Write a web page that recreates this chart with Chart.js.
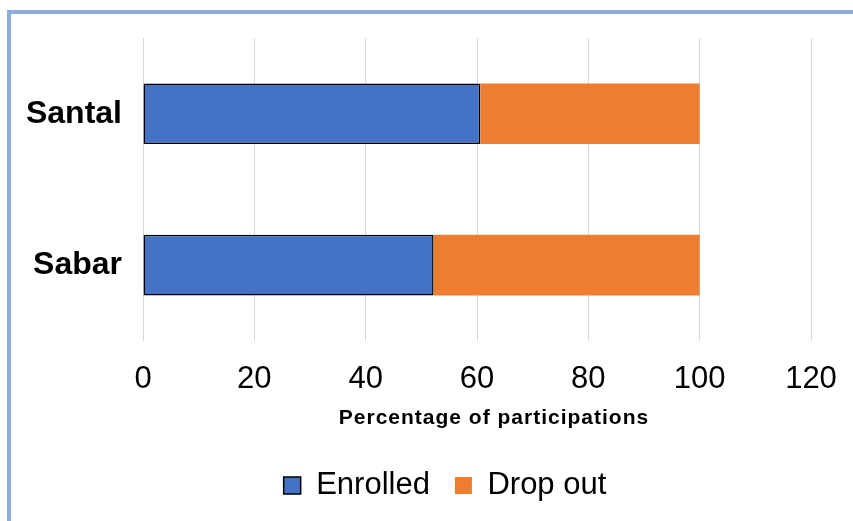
<!DOCTYPE html>
<html>
<head>
<meta charset="utf-8">
<script src="https://cdn.jsdelivr.net/npm/chart.js@4.4.0/dist/chart.umd.min.js"></script>
<style>
  html, body { margin: 0; padding: 0; background: #fff; overflow: hidden; }
  .frame { position: absolute; left: 7px; top: 10px; width: 900px; height: 600px;
           border-left: 4px solid #8faadc; border-top: 4px solid #8faadc; }
  #chart { position: absolute; left: 0; top: 0; }
</style>
</head>
<body>
<div class="frame"></div>
<!-- a bit wider than the window, the right edge is cut off like in the original -->
<canvas id="chart" width="880" height="521"></canvas>
<script>
// data
const groups = ['Santal', 'Sabar'];
const enrolled = [60.6, 52.2];
const dropOut = [39.4, 47.8];
const xTicks = [0, 20, 40, 60, 80, 100, 120];
const axisTitle = 'Percentage of participations';

const FONT = '"Liberation Sans", Arial, sans-serif';

// x axis title, drawn a bit right of the plot centre like in the original
const axisTitlePlugin = {
	id: 'axisTitle',
	afterDraw(chart) {
		const sx = chart.scales.x;
		const ctx = chart.ctx;
		ctx.save();
		ctx.font = 'bold 21px ' + FONT;
		ctx.letterSpacing = '1px';
		ctx.fillStyle = '#000';
		ctx.textAlign = 'center';
		ctx.textBaseline = 'middle';
		ctx.fillText(axisTitle, (sx.left + sx.right) / 2 + 17, sx.top + 77);
		ctx.restore();
	}
};

new Chart(document.getElementById('chart'), {
	type: 'bar',
	data: {
		labels: groups,
		datasets: [{
			label: 'Enrolled',
			data: enrolled,
			backgroundColor: '#4472c4',
			borderColor: '#000',
			borderWidth: 1.5,
			borderSkipped: false
		}, {
			label: 'Drop out',
			data: dropOut,
			backgroundColor: '#ed7d31',
			borderWidth: 0
		}]
	},
	options: {
		indexAxis: 'y',
		responsive: false,
		animation: false,
		barPercentage: 0.4,
		categoryPercentage: 1.0,
		layout: { padding: { left: 10, right: 0, top: 38, bottom: 10 } },
		plugins: {
			tooltip: { enabled: false },
			legend: {
				position: 'bottom',
				labels: {
					color: '#000',
					font: { size: 31, family: FONT },
					boxWidth: 17,
					boxHeight: 17,
					padding: 25
				}
			}
		},
		scales: {
			x: {
				stacked: true,
				min: xTicks[0],
				max: xTicks[xTicks.length - 1],
				ticks: {
					stepSize: xTicks[1] - xTicks[0],
					color: '#000',
					font: { size: 31, family: FONT },
					padding: 20
				},
				grid: { color: '#d9d9d9', lineWidth: 1, drawTicks: false },
				border: { display: false },
				afterFit: function(scale) { scale.height += 27; }
			},
			y: {
				stacked: true,
				ticks: {
					color: '#000',
					font: { size: 32, weight: 'bold', family: FONT },
					padding: 21
				},
				grid: { display: false, drawTicks: false },
				border: { display: false },
				afterFit: function(scale) {
					scale.width = 133;
					// labels sit well inside the bands, no extra room needed above/below
					scale.paddingTop = 0;
					scale.paddingBottom = 0;
				}
			},
			// empty spacer on the right so the plot ends at 120 and the legend sits where it does
			spacer: {
				type: 'linear',
				position: 'right',
				ticks: { display: false },
				grid: { display: false, drawTicks: false },
				border: { display: false },
				afterFit: function(scale) { scale.width = 69; }
			}
		}
	},
	plugins: [axisTitlePlugin]
});
</script>
</body>
</html>
